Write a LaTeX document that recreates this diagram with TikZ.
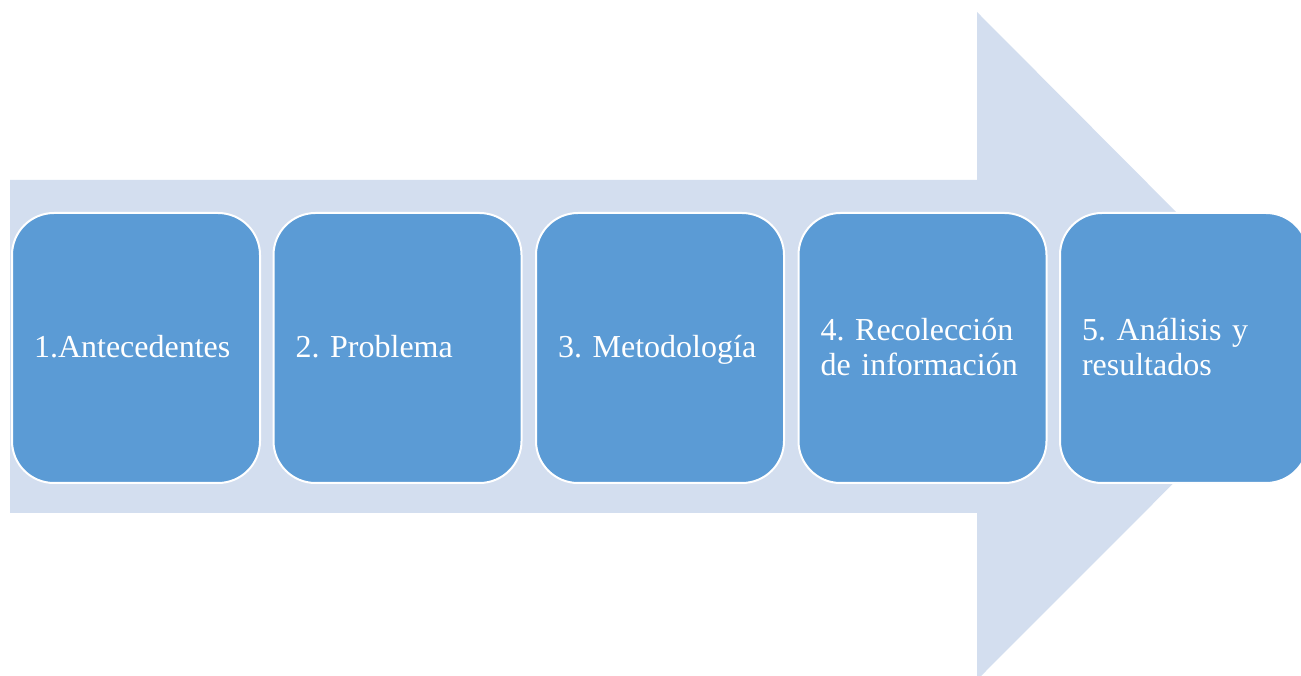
\documentclass[tikz,border=0pt]{standalone}
\usepackage{fontspec}
\setmainfont{Liberation Serif}
\definecolor{bandblue}{HTML}{D3DEEF}
\definecolor{stageblue}{HTML}{5B9BD5}
\newcommand{\stagestrut}{\rule[-3.5pt]{0pt}{17pt}}

\begin{document}
\begin{tikzpicture}[
    x=0.5pt, y=0.5pt,
    band/.style={fill=bandblue, draw=none},
    stage/.style={rectangle, rounded corners=21pt, draw=white, line width=1pt,
        fill=stageblue, text=white, minimum width=124pt, minimum height=135pt,
        text width=102pt, inner xsep=11pt, align=left,
        font=\fontsize{16}{17.5}\selectfont\frenchspacing}
]
    \useasboundingbox (0,0) rectangle (1301,675);
    \clip (0,0) rectangle (1301,675);
    % big arrow behind the stages
    \fill[band] (10,162) -- (10,495) -- (977,495) -- (977,663) -- (1310,328.5)
        -- (977,-5) -- (977,162) -- cycle;
    \node[stage] (s1) at (136,327) {\stagestrut 1.Antecedentes};
    \node[stage] (s2) at (397.5,327) {\stagestrut 2. Problema};
    \node[stage] (s3) at (660,327) {\stagestrut 3. Metodología};
    \node[stage] (s4) at (922.5,327) {\stagestrut 4. Recolección\\\stagestrut de información};
    \node[stage] (s5) at (1184,327) {\stagestrut 5. Análisis y\\\stagestrut resultados};
\end{tikzpicture}
\end{document}
